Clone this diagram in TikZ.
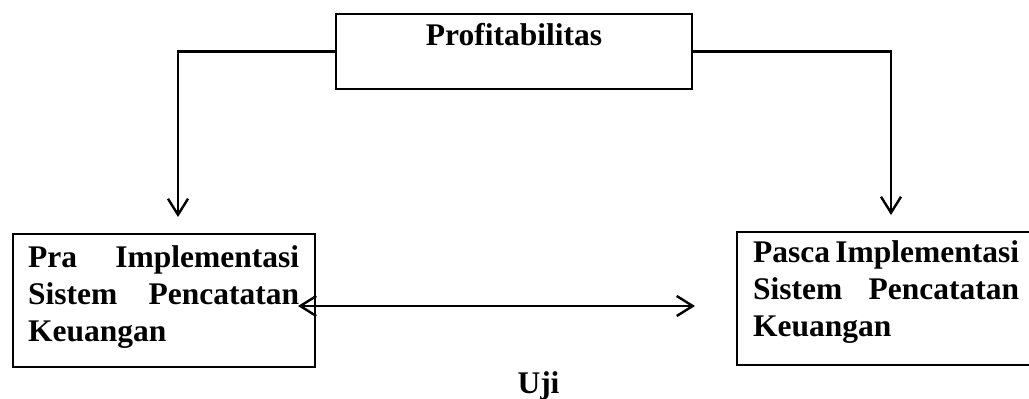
\documentclass[tikz,border=0pt]{standalone}
\usepackage{fontspec}
\setmainfont{Liberation Serif}
\usetikzlibrary{positioning,arrows.meta}
\tikzset{
    >={Straight Barb[length=16pt,width=20pt]},
    lbox/.style={draw, line width=2.4pt, inner sep=0pt},
    ltext/.style={inner sep=0pt, font=\fontsize{31.5}{37}\selectfont\bfseries},
}

\begin{document}
\begin{tikzpicture}[x=1pt,y=-1pt,line width=2.4pt]
\useasboundingbox (0,0) rectangle (1029,399);
\node[lbox,minimum width=356pt,minimum height=75pt] (profit) at (514,51.5) {};
\node[ltext,anchor=base] (profitText) at (514,45) {Profitabilitas};
\node[lbox,anchor=north west,minimum width=302pt,minimum height=133pt] (pra) at (12,233) {};
\node[ltext,align=left,text width=271pt,below right=11pt and 15pt of pra.north west] (praText)
    {Pra\hfill Implementasi\\Sistem\hfill Pencatatan\\Keuangan};
\node[lbox,anchor=north west,minimum width=300pt,minimum height=133pt] (pasca) at (736,231) {};
\node[ltext,align=left,text width=266pt,below right=8pt and 16pt of pasca.north west] (pascaText)
    {Pasca\hfill Implementasi\\Sistem\hfill Pencatatan\\Keuangan};
\node[ltext,anchor=base] (uji) at (538.5,393) {Uji};
\coordinate (tipL) at (178,217);
\coordinate (tipR) at (891,215);
\coordinate (ujiL) at (298,306);
\coordinate (ujiR) at (695,306);
\draw[->] (profit.west) -| (tipL);
\draw[->] (profit.east) -| (tipR);
\draw[<->] (ujiL) -- (ujiR);
\end{tikzpicture}
\end{document}
